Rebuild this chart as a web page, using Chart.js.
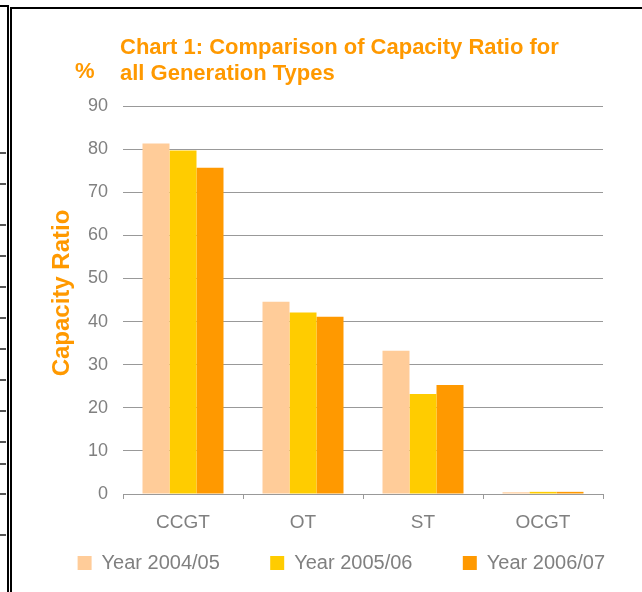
<!DOCTYPE HTML>
<html>
<head>
<script src="https://cdn.jsdelivr.net/npm/chart.js"></script>
<style>
    html, body { margin: 0; padding: 0; background: white; overflow: hidden; }
    #page { position: relative; width: 642px; height: 592px; overflow: hidden; }
    #chartBox { position: absolute; left: 37px; top: 0px; width: 642px; height: 592px; }
    .ln { position: absolute; background: #000; }
    .tk { position: absolute; left: 0; width: 6px; height: 2px; background: #555; }
</style>
</head>
<body>
<div id="page">
    <div id="chartBox"><canvas id="capChart"></canvas></div>
    <!-- frame of the document table around the chart -->
    <div class="ln" style="left:0; top:5px; width:9px; height:2px;"></div>
    <div class="ln" style="left:7px; top:5px; width:2px; height:587px;"></div>
    <div class="ln" style="left:10px; top:7px; width:2px; height:585px;"></div>
    <div class="ln" style="left:10px; top:7px; width:632px; height:2px;"></div>
    <div id="ticks"></div>
</div>

<script type="text/javascript">
    const categories = ['CCGT', 'OT', 'ST', 'OCGT'];
    const seriesNames = ['Year 2004/05', 'Year 2005/06', 'Year 2006/07'];
    const year0405 = [81.3, 44.6, 33.2, 0.4];
    const year0506 = [79.7, 42.1, 23.2, 0.5];
    const year0607 = [75.7, 41.1, 25.3, 0.5];
    const yTicks = [0, 10, 20, 30, 40, 50, 60, 70, 80, 90];

    const colors = ['#FFCC99', '#FFCC00', '#FF9900'];
    const grey = '#808080';
    const orange = '#FF9900';
    const fontFam = '"Liberation Sans", Arial, sans-serif';

    // little marks on the left edge of the page
    const marks = [152, 183, 224, 255, 286, 317, 348, 379, 410, 441, 463, 493, 534];
    let html = '';
    for (let i = 0; i < marks.length; i++) {
        html += '<div class="tk" style="top:' + marks[i] + 'px"></div>';
    }
    document.getElementById('ticks').innerHTML = html;

    // canvas is shifted right so the legend lands where it should
    const OFFX = 37;

    const textPlugin = {
        id: 'textPlugin',
        afterDraw(chart) {
            const ctx = chart.ctx;
            ctx.save();
            ctx.fillStyle = orange;
            ctx.font = 'bold 22px ' + fontFam;
            ctx.textAlign = 'left';
            ctx.textBaseline = 'alphabetic';
            ctx.fillText('Chart 1: Comparison of Capacity Ratio for', 120 - OFFX, 54);
            ctx.fillText('all Generation Types', 120 - OFFX, 80);
            ctx.fillText('%', 75 - OFFX, 78);
            ctx.translate(69 - OFFX, 293);
            ctx.rotate(-Math.PI / 2);
            ctx.textAlign = 'center';
            ctx.font = 'bold 24px ' + fontFam;
            ctx.fillText('Capacity Ratio', 0, 0);
            ctx.restore();
        }
    };

    const data = {
        labels: categories,
        datasets: [
            { label: seriesNames[0], data: year0405, backgroundColor: colors[0] },
            { label: seriesNames[1], data: year0506, backgroundColor: colors[1] },
            { label: seriesNames[2], data: year0607, backgroundColor: colors[2] }
        ]
    };

    const config = {
        type: 'bar',
        data: data,
        options: {
            responsive: true,
            maintainAspectRatio: false,
            animation: false,
            devicePixelRatio: 1,
            layout: { padding: { top: 106, bottom: 9, left: 0, right: 0 } },
            datasets: { bar: { categoryPercentage: 0.675, barPercentage: 1.0 } },
            scales: {
                x: {
                    grid: { display: true, drawOnChartArea: false, drawTicks: true, tickLength: 5, color: '#999', offset: true },
                    border: { display: true, color: '#999', width: 1 },
                    ticks: { color: grey, padding: 12, font: { size: 19, family: fontFam } },
                    afterFit: function (scale) { scale.height = 42; }
                },
                y: {
                    min: 0,
                    max: 90,
                    afterBuildTicks: function (scale) {
                        scale.ticks = yTicks.map(v => ({ value: v }));
                    },
                    grid: { color: '#999', drawTicks: false, lineWidth: 1 },
                    border: { display: false },
                    ticks: { color: grey, padding: 15, font: { size: 18, family: fontFam } },
                    afterFit: function (scale) { scale.width = 123 - OFFX; }
                },
                yRight: {
                    position: 'right',
                    grid: { display: false },
                    border: { display: false },
                    ticks: { display: false },
                    afterFit: function (scale) { scale.width = 642 + OFFX - 603; }
                }
            },
            plugins: {
                title: { display: false },
                tooltip: { enabled: false },
                legend: {
                    position: 'bottom',
                    labels: {
                        boxWidth: 14,
                        boxHeight: 14,
                        padding: 17,
                        color: grey,
                        font: { size: 20, family: fontFam },
                        generateLabels: function (chart) {
                            const items = Chart.defaults.plugins.legend.labels.generateLabels(chart);
                            items.forEach(it => { it.text = it.text + '      '; });
                            return items;
                        }
                    }
                }
            }
        },
        plugins: [textPlugin]
    };

    new Chart(document.getElementById('capChart'), config);
</script>
</body>
</html>
